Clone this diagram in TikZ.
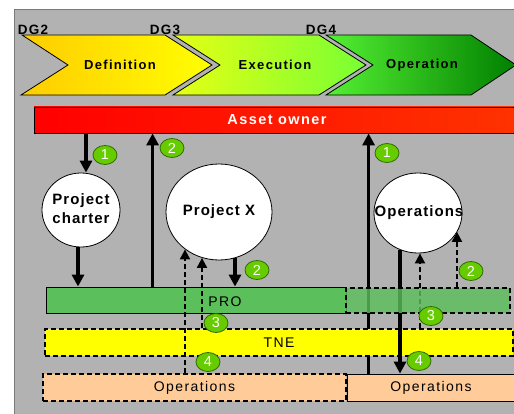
\documentclass[tikz,border=0pt]{standalone}
\usepackage{fontspec}
\setmainfont{Liberation Sans}
\newfontfamily\spacedfont[LetterSpace=10]{Liberation Sans}
\newfontfamily\tightfont[LetterSpace=7]{Liberation Sans}
\usetikzlibrary{arrows.meta,shapes.geometric}
\definecolor{panel}{HTML}{B2B2B2}
\definecolor{paneledge}{HTML}{7A7A7A}
\definecolor{progreen}{HTML}{5BBF5B}
\definecolor{tneyellow}{HTML}{FFFF00}
\definecolor{opspeach}{HTML}{FFCC99}
\definecolor{numfill}{HTML}{66CC00}
\definecolor{numedge}{HTML}{2E6B00}
\definecolor{defA}{HTML}{FFCC00}
\definecolor{defB}{HTML}{FFFF00}
\definecolor{exeA}{HTML}{E6FF14}
\definecolor{exeB}{HTML}{77FF33}
\definecolor{opA}{HTML}{55F033}
\definecolor{opB}{HTML}{008000}
\definecolor{ownA}{HTML}{FF0000}
\definecolor{ownB}{HTML}{FF3300}
\begin{document}
\begin{tikzpicture}[x=1pt,y=-1pt,
  phase/.style={draw=black,line width=0.8pt},
  gate/.style={font=\spacedfont\bfseries\fontsize{13.5}{15}\selectfont},
  phasetext/.style={font=\spacedfont\bfseries\fontsize{13}{15}\selectfont},
  blob/.style={ellipse,draw=black,line width=0.8pt,fill=white,inner sep=0pt,
    font=\tightfont\bfseries\fontsize{15}{19}\selectfont},
  bar/.style={rectangle,draw=black,line width=0.8pt,inner sep=0pt,minimum height=26pt,
    font=\spacedfont\fontsize{14}{16}\selectfont},
  dbar/.style={bar,line width=1.8pt,dash pattern=on 5pt off 3pt},
  num/.style={ellipse,draw=numedge,fill=numfill,line width=0.8pt,minimum width=24pt,
    minimum height=19pt,inner sep=0pt,text=white,font=\fontsize{14.5}{14}\selectfont},
  flow/.style={line width=3.3pt,-{Triangle[width=12pt,length=12pt]}},
  link/.style={line width=2pt,dash pattern=on 5pt off 3pt,
    -{Triangle[width=10pt,length=10pt]}}]
\useasboundingbox (0,0) rectangle (514,414);
\clip (0,0) rectangle (514,414);
\fill[white] (0,0) rectangle (514,414);
\draw[paneledge,fill=panel,line width=1pt] (14,10) rectangle (530,430);

% phase chevrons
\path[phase,left color=defA,right color=defB]
  (22,35) -- (165,35) -- (212,65) -- (165,95) -- (21,95) -- (68,65) -- cycle;
\path[phase,left color=exeA,right color=exeB]
  (173,35) -- (319,35) -- (366,65) -- (319,95) -- (173,95) -- (220,65) -- cycle;
\path[phase,left color=opA,right color=opB]
  (326,35) -- (471,35) -- (516,65) -- (471,95) -- (326,95) -- (373,65) -- cycle;
\node[phasetext] (tdef) at (120,65) {Definition};
\node[phasetext] (texe) at (275,65) {Execution};
\node[phasetext] (top) at (422,65) {Operation};
\node[gate] (dg2) at (33,29.5) {DG2};
\node[gate] (dg3) at (165,29.5) {DG3};
\node[gate] (dg4) at (321,29.5) {DG4};

% asset owner bar
\node[bar,left color=ownA,right color=ownB,minimum width=486pt,text=white,
  font=\spacedfont\bfseries\fontsize{14.5}{16}\selectfont] (asset) at (277,120) {Asset owner};

% circles
\node[blob,minimum width=78pt,minimum height=74pt] (charter) at (81,210)
  {\makebox[0pt]{\raisebox{-6pt}{\begin{tabular}{@{}c@{}}Project\\charter\end{tabular}}}};
\node[blob,minimum width=106pt,minimum height=96pt] (projx) at (219,212)
  {\makebox[0pt]{\raisebox{-2pt}{Project X}}};
\node[blob,minimum width=88pt,minimum height=80pt] (opsc) at (418,213)
  {\makebox[0pt]{\raisebox{-4pt}{\kern2pt Operations}}};

% lower bars
\node[bar,fill=progreen,minimum width=300pt] (pro) at (196,300) {};
\node[font=\spacedfont\fontsize{14}{16}\selectfont] (prolbl) at (225,302) {PRO};
\node[dbar,fill=opspeach,minimum width=303pt,minimum height=27pt] (opsL) at (194.5,387.5) {Operations};
\node[bar,fill=opspeach,minimum width=168pt,minimum height=27pt] (opsR) at (431,387.5) {Operations};

% column references
\path ([xshift=5pt]charter.north) coordinate (chin);
\path ([xshift=-3pt]charter.south) coordinate (chout);
\path ([xshift=107pt]pro.north west) coordinate (proup);
\path ([xshift=16pt,yshift=2pt]projx.south) coordinate (pxout);
\path ([xshift=-34pt,yshift=11pt]projx.south) coordinate (pxinA);
\path ([xshift=-17pt,yshift=2.5pt]projx.south) coordinate (pxinB);
\path ([xshift=22pt]opsR.north west) coordinate (opsup);
\path ([xshift=-18pt,yshift=3.5pt]opsc.south) coordinate (ocout);
\path ([xshift=2pt]opsc.south) coordinate (ocinA);
\path ([xshift=39pt,yshift=21.5pt]opsc.south) coordinate (ocinB);

% solid flows
\draw[flow] (asset.south -| chin) -- (chin);
\draw[flow] (chout) -- (pro.north -| chout);
\draw[flow] (proup) -- (asset.south -| proup);
\draw[flow] (pxout) -- (pro.north -| pxout);
\draw[flow] (opsup) -- (asset.south -| opsup);

% TNE bar
\node[dbar,fill=tneyellow,minimum width=468pt,minimum height=27pt] (tne) at (279,342.5) {TNE};

\draw[flow] (ocout) -- (opsR.north -| ocout);
\draw[link] (tne.north -| ocinA) -- (ocinA);

% PRO part on the operations side
\node[dbar,fill=progreen,fill opacity=0.82,minimum width=164pt,minimum height=25pt] (proR) at (428,300.5) {};
\draw[link] (proR.north -| ocinB) -- (ocinB);

% dashed links into Project X
\draw[link] (opsL.north -| pxinA) -- (pxinA);
\draw[link] (tne.north -| pxinB) -- (pxinB);

% step numbers
\node[num] (n1a) at (105,155) {1};
\node[num] (n2a) at (172,148) {2};
\node[num] (n1b) at (387,153) {1};
\node[num] (n2b) at (257,270) {2};
\node[num] (n2c) at (471,271) {2};
\node[num] (n3a) at (216,323) {3};
\node[num] (n4a) at (208,362) {4};
\node[num] (n3b) at (431,316) {3};
\node[num] (n4b) at (419,361) {4};
\end{tikzpicture}
\end{document}
